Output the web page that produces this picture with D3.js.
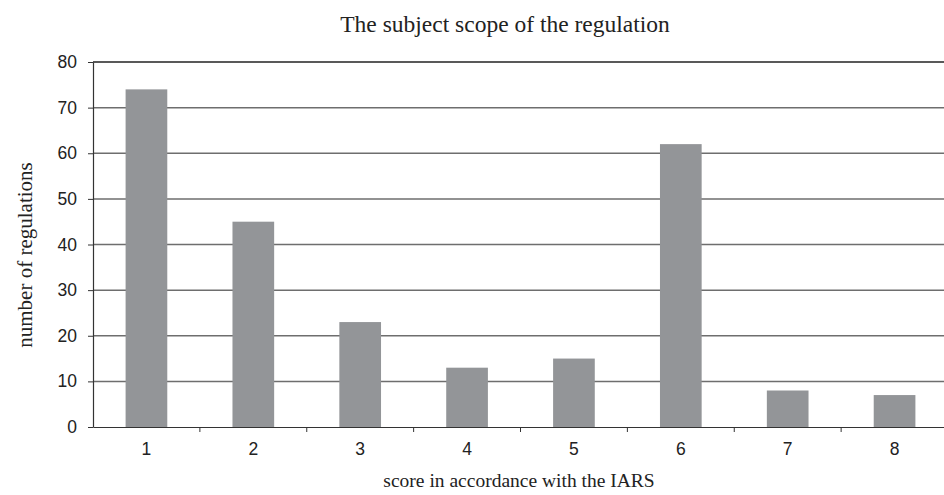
<!DOCTYPE html>
<html><head><meta charset="utf-8">
<script src="https://cdn.jsdelivr.net/npm/d3@7"></script>
<style>body{margin:0;background:#fff}svg{display:block}</style>
</head><body>
<svg id="c" width="944" height="495"></svg>
<script>
const categories = ["1","2","3","4","5","6","7","8"];
const values = [74, 45, 23, 13, 15, 62, 8, 7];
const yTicks = [0,10,20,30,40,50,60,70,80];
const title = "The subject scope of the regulation";
const xTitle = "score in accordance with the IARS";
const yTitle = "number of regulations";

const svg = d3.select("#c");
const L = 93, R = 948, T = 62, B = 427;
const x = d3.scaleBand().domain(categories).range([L, R]).paddingInner(0.61).paddingOuter(0.305);
const xb = d3.scaleBand().domain(categories).range([L, R]);
const y = d3.scaleLinear().domain([0, 80]).range([B, T]);

// gridlines
svg.append("g").selectAll("line").data(yTicks.filter(d => d > 0)).join("line")
  .attr("x1", L).attr("x2", 944).attr("y1", d => y(d)).attr("y2", d => y(d))
  .attr("stroke", d => d === 80 ? "#222" : "#6e6e6e").attr("stroke-width", 1.5);

// bars
svg.append("g").selectAll("rect").data(values).join("rect")
  .attr("x", (d, i) => x(categories[i])).attr("width", x.bandwidth())
  .attr("y", d => y(d)).attr("height", d => B - y(d))
  .attr("fill", "#939598");

const sans = "Liberation Sans, Arial, sans-serif";
const serif = "Liberation Serif, Times New Roman, serif";

// y axis
const ya = svg.append("g").attr("transform", `translate(${L},0)`)
  .call(d3.axisLeft(y).tickValues(yTicks).tickSize(5).tickPadding(11).tickSizeOuter(0));
ya.select(".domain").attr("stroke", "#333").attr("stroke-width", 1.2);
ya.selectAll(".tick line").attr("stroke", "#333");
ya.selectAll("text").attr("font-family", sans).attr("font-size", 17.5).attr("fill", "#222");

// x axis
const xa = svg.append("g").attr("transform", `translate(0,${B})`)
  .call(d3.axisBottom(xb).tickSize(0).tickPadding(16));
xa.select(".domain").attr("stroke", "#333").attr("stroke-width", 1.2);
xa.selectAll("text").attr("font-family", sans).attr("font-size", 17.5).attr("fill", "#222");
// boundary ticks
svg.append("g").selectAll("line").data(categories.slice(1)).join("line")
  .attr("x1", d => xb(d)).attr("x2", d => xb(d)).attr("y1", B).attr("y2", B + 5)
  .attr("stroke", "#333");

svg.append("text").attr("x", 505).attr("y", 32).attr("text-anchor", "middle")
  .attr("font-family", serif).attr("font-size", 23.5).attr("fill", "#222").text(title);
svg.append("text").attr("x", 519).attr("y", 487).attr("text-anchor", "middle")
  .attr("font-family", serif).attr("font-size", 19.5).attr("fill", "#222").text(xTitle);
svg.append("text").attr("transform", "translate(32,255) rotate(-90)").attr("text-anchor", "middle")
  .attr("font-family", serif).attr("font-size", 21).attr("fill", "#222").text(yTitle);
</script>
</body></html>
